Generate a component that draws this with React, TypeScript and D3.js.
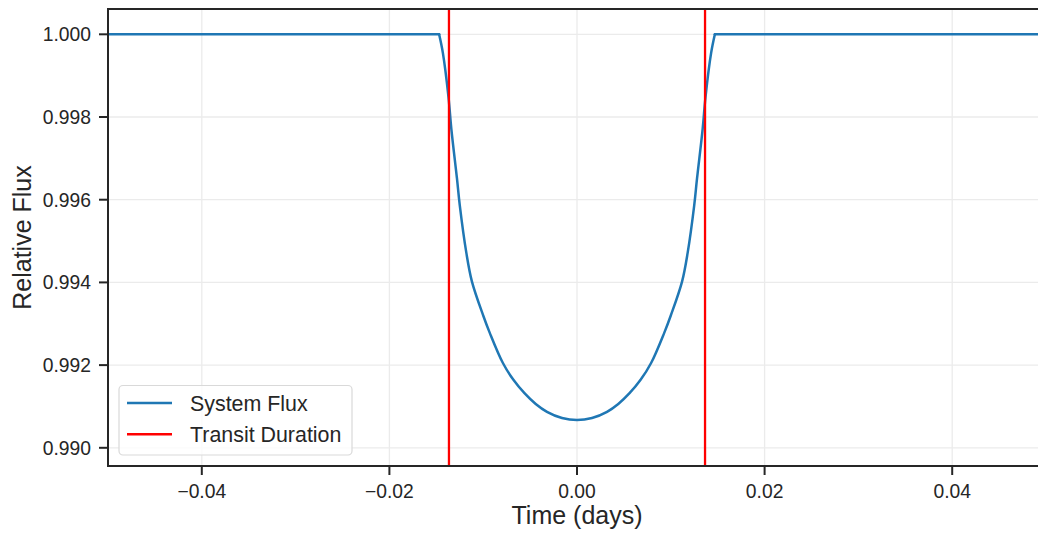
import React from "react";
import * as d3 from "d3";

const timeDays: number[] = [
  -0.05, -0.02, -0.0147, -0.0143, -0.0137, -0.0134, -0.0128, -0.0125, -0.0118, -0.0112,
  -0.01, -0.0093, -0.0079, -0.0068, -0.0056, -0.0044, -0.0032, -0.0016, 0,
  0.0016, 0.0032, 0.0044, 0.0056, 0.0068, 0.0079, 0.0093, 0.01, 0.0112, 0.0118,
  0.0125, 0.0128, 0.0134, 0.0137, 0.0143, 0.0147, 0.02, 0.05,
];
const systemFlux: number[] = [
  1.0, 1.0, 1.0, 0.99955, 0.99848, 0.99772, 0.99652, 0.99587, 0.99472, 0.99402,
  0.9932, 0.99278, 0.99205, 0.99165, 0.99132, 0.99106, 0.99087, 0.99072, 0.99067,
  0.99072, 0.99087, 0.99106, 0.99132, 0.99165, 0.99205, 0.99278, 0.9932, 0.99402, 0.99472,
  0.99587, 0.99652, 0.99772, 0.99848, 0.99955, 1.0, 1.0, 1.0,
];
const transitEdges: number[] = [-0.01365, 0.01365];
const xTicks: number[] = [-0.04, -0.02, 0.0, 0.02, 0.04];
const yTicks: number[] = [0.99, 0.992, 0.994, 0.996, 0.998, 1.0];
const legendLabels: string[] = ["System Flux", "Transit Duration"];
const legendColors: string[] = ["#1f77b4", "#ff0000"];

const W = 1038;
const H = 533;
const left = 108;
const right = 1046;
const top = 9;
const bottom = 466;
const FONT = "'Liberation Sans', Arial, sans-serif";
const TXT = "#262626";
const CONTACT = 0.0147;

export default function App() {
  const x = d3.scaleLinear().domain([-0.05, 0.05]).range([left, right]);
  const y = d3.scaleLinear().domain([0.98956, 1.000612]).range([bottom, top]);
  const pts: [number, number][] = timeDays.map((t, i) => [t, systemFlux[i]]);
  const inTransit = pts.filter((d) => Math.abs(d[0]) <= CONTACT + 1e-9);
  const leftFlat = pts.filter((d) => d[0] <= -CONTACT + 1e-9);
  const rightFlat = pts.filter((d) => d[0] >= CONTACT - 1e-9);
  const curved = d3
    .line<[number, number]>()
    .x((d) => x(d[0]))
    .y((d) => y(d[1]))
    .curve(d3.curveCatmullRom.alpha(0.5));
  const straight = d3
    .line<[number, number]>()
    .x((d) => x(d[0]))
    .y((d) => y(d[1]));
  const fmtX = (v: number) => (v < 0 ? "\u2212" : "") + Math.abs(v).toFixed(2);
  const fluxStyle = {
    fill: "none",
    stroke: "#1f77b4",
    strokeWidth: 2.5,
    strokeLinejoin: "round" as const,
    strokeLinecap: "round" as const,
  };

  return (
    <svg
      width={W}
      height={H}
      style={{ position: "absolute", left: 0, top: 0, background: "#fff" }}
      fontFamily={FONT}
    >
      <defs>
        <clipPath id="plot">
          <rect x={left} y={top} width={right - left} height={bottom - top} />
        </clipPath>
      </defs>
      <rect x={0} y={0} width={W} height={H} fill="#fff" />
      <g stroke="#ebebeb" strokeWidth={1.3}>
        {xTicks.map((t) => (
          <line key={"gx" + t} x1={x(t)} x2={x(t)} y1={top} y2={bottom} />
        ))}
        {yTicks.map((t) => (
          <line key={"gy" + t} x1={left} x2={right} y1={y(t)} y2={y(t)} />
        ))}
      </g>
      <g clipPath="url(#plot)">
        <path d={straight(leftFlat) || ""} {...fluxStyle} />
        <path d={curved(inTransit) || ""} {...fluxStyle} />
        <path d={straight(rightFlat) || ""} {...fluxStyle} />
        {transitEdges.map((t) => (
          <line key={"tr" + t} x1={x(t)} x2={x(t)} y1={top} y2={bottom} stroke="#ff0000" strokeWidth={2.3} />
        ))}
      </g>
      <g stroke="#262626" strokeWidth={2} fill="none">
        <line x1={left} x2={left} y1={top - 1} y2={bottom + 1} />
        <line x1={left - 1} x2={W} y1={bottom} y2={bottom} />
        <line x1={left - 1} x2={W} y1={top} y2={top} />
      </g>
      {yTicks.map((t) => (
        <g key={"yt" + t}>
          <line x1={left - 9} x2={left} y1={y(t)} y2={y(t)} stroke="#262626" strokeWidth={2} />
          <text x={left - 17} y={y(t)} dy="0.36em" textAnchor="end" fontSize={19.3} fill={TXT}>
            {t.toFixed(3)}
          </text>
        </g>
      ))}
      {xTicks.map((t) => (
        <g key={"xt" + t}>
          <line x1={x(t)} x2={x(t)} y1={bottom} y2={bottom + 9} stroke="#262626" strokeWidth={2} />
          <text x={x(t)} y={bottom + 32} textAnchor="middle" fontSize={19.3} fill={TXT}>
            {fmtX(t)}
          </text>
        </g>
      ))}
      <text x={577} y={523.5} textAnchor="middle" fontSize={25} fill={TXT}>
        Time (days)
      </text>
      <text
        transform={`translate(31,${(top + bottom) / 2}) rotate(-90)`}
        textAnchor="middle"
        fontSize={25}
        fill={TXT}
      >
        Relative Flux
      </text>
      <g>
        <rect x={119} y={385.5} width={233} height={69.5} rx={4} fill="#fff" fillOpacity={0.8} stroke="#d9d9d9" strokeWidth={1.2} />
        {legendLabels.map((lab, i) => (
          <g key={lab}>
            <line x1={127} x2={172} y1={403 + i * 31.3} y2={403 + i * 31.3} stroke={legendColors[i]} strokeWidth={2.5} />
            <text x={190} y={403 + i * 31.3} dy="0.36em" fontSize={21.4} fill={TXT}>
              {lab}
            </text>
          </g>
        ))}
      </g>
    </svg>
  );
}
